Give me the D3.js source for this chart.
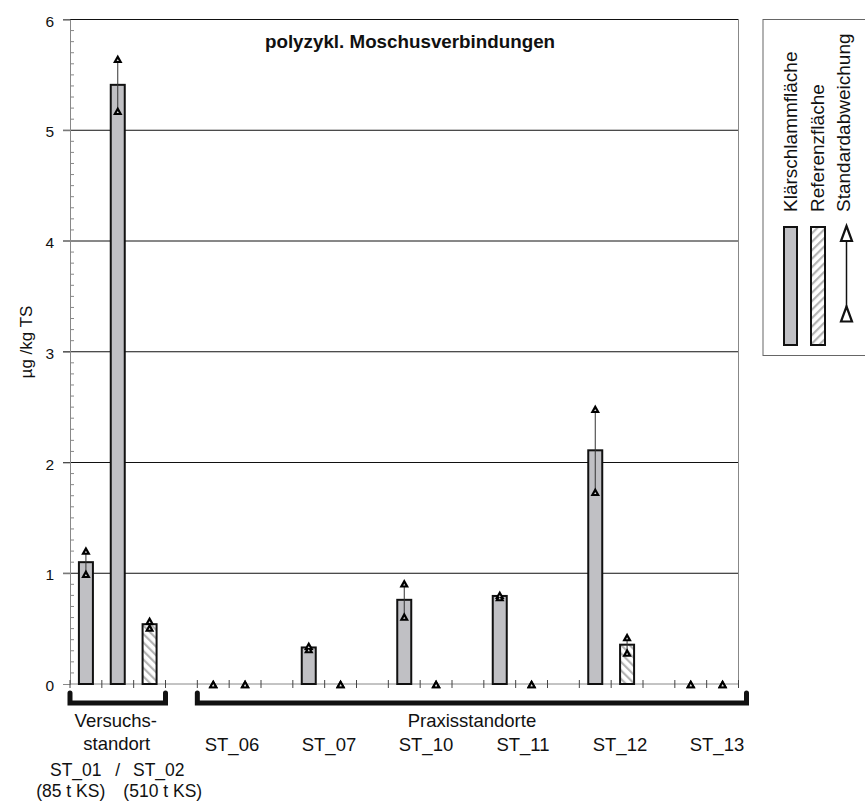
<!DOCTYPE html>
<html>
<head>
<meta charset="utf-8">
<script src="https://d3js.org/d3.v7.min.js"></script>
<style>
    body { margin: 0; background: #fff; }
    svg { display: block; font-family: "Liberation Sans", Arial, sans-serif; }
</style>
</head>
<body>
<svg id="chart" width="865" height="803"></svg>
<script>
// one entry per slot on the x axis: 3 for the Versuchsstandort, then gap / KS / Ref for every Praxisstandort
var slotKind = ["KS", "KS", "Ref", null, "KS", "Ref", null, "KS", "Ref", null, "KS", "Ref", null, "KS", "Ref", null, "KS", "Ref", null, "KS", "Ref"]
var slotValue = [1.10, 5.41, 0.54, null, 0, 0, null, 0.33, 0, null, 0.76, 0, null, 0.795, 0, null, 2.11, 0.355, null, 0, 0]
var slotSd = [0.105, 0.235, 0.03, null, 0, 0, null, 0.015, 0, null, 0.15, 0, null, 0.01, 0, null, 0.375, 0.07, null, 0, 0]

var siteLabels = ["ST_06", "ST_07", "ST_10", "ST_11", "ST_12", "ST_13"]
var yTicks = [0, 1, 2, 3, 4, 5, 6]
var legendLabels = ["Klärschlammfläche", "Referenzfläche", "Standardabweichung"]
var chartTitle = "polyzykl. Moschusverbindungen"
var yTitle = "µg /kg TS"

var ksFill = "#c0c0c4"

var svg = d3.select("svg#chart")

var x = d3.scaleBand().domain(d3.range(slotKind.length)).range([70, 738.5]).padding(0)
var y = d3.scaleLinear().domain([0, 6]).range([684, 19.5])
var barW = 14

// hatch patterns
var defs = svg.append("defs")
function addHatch(id, angle) {
    var p = defs.append("pattern")
        .attr("id", id)
        .attr("patternUnits", "userSpaceOnUse")
        .attr("width", 6).attr("height", 6)
        .attr("patternTransform", "rotate(" + angle + ")")
    p.append("rect").attr("width", 6).attr("height", 6).attr("fill", "#fff")
    p.append("rect").attr("width", 2.2).attr("height", 6).attr("fill", "#b4b4b4")
}
addHatch("hatch", -45)
addHatch("hatchLegend", 45)

function tri(cx, cy, w, h) {
    return "M" + cx + "," + (cy - h / 2) + "L" + (cx + w / 2) + "," + (cy + h / 2) + "L" + (cx - w / 2) + "," + (cy + h / 2) + "Z"
}

// gridlines
svg.append("g").selectAll("line").data(yTicks.filter(d => d > 0)).enter().append("line")
    .attr("x1", 63).attr("x2", x.range()[1])
    .attr("y1", d => y(d)).attr("y2", d => y(d))
    .attr("stroke", "#111").attr("stroke-width", 1)

// right border of plot area
svg.append("line")
    .attr("x1", x.range()[1]).attr("x2", x.range()[1])
    .attr("y1", y(6)).attr("y2", y(0))
    .attr("stroke", "#888")

// y axis
var yAxis = svg.append("g").attr("transform", "translate(70,0)")
    .call(d3.axisLeft(y).tickValues(yTicks).tickSize(7).tickPadding(9).tickFormat(d3.format("d")))
yAxis.select(".domain").attr("stroke", "#888")
yAxis.selectAll(".tick line").attr("stroke", "#888")
yAxis.selectAll("text").attr("font-size", "15.5px").attr("font-family", "Liberation Sans, Arial").attr("fill", "#111").attr("dy", "0.42em")

// minor ticks
svg.append("g").selectAll("line").data(d3.range(1, 60).filter(d => d % 10 != 0)).enter().append("line")
    .attr("x1", 70).attr("x2", 74)
    .attr("y1", d => y(d / 10)).attr("y2", d => y(d / 10))
    .attr("stroke", "#888")

// x axis line + ticks on slot boundaries
svg.append("line")
    .attr("x1", x.range()[0]).attr("x2", x.range()[1])
    .attr("y1", y(0)).attr("y2", y(0))
    .attr("stroke", "#888")
svg.append("g").selectAll("line").data(d3.range(slotKind.length + 1)).enter().append("line")
    .attr("x1", d => x.range()[0] + d * x.step()).attr("x2", d => x.range()[0] + d * x.step())
    .attr("y1", y(0) - 4).attr("y2", y(0) + 4)
    .attr("stroke", "#444")

// bars
var slots = slotKind.map((k, i) => ({i: i, kind: k, value: slotValue[i], sd: slotSd[i]}))
    .filter(d => d.kind != null)

svg.append("g").selectAll("rect").data(slots.filter(d => d.value > 0)).enter().append("rect")
    .attr("x", d => x(d.i) + (x.bandwidth() - barW) / 2)
    .attr("y", d => y(d.value))
    .attr("width", barW)
    .attr("height", d => y(0) - y(d.value))
    .attr("fill", d => d.kind == "KS" ? ksFill : "url(#hatch)")
    .attr("stroke", "#111").attr("stroke-width", 2)

// error bars
var err = svg.append("g")
err.selectAll("line").data(slots.filter(d => d.sd > 0)).enter().append("line")
    .attr("x1", d => x(d.i) + x.bandwidth() / 2).attr("x2", d => x(d.i) + x.bandwidth() / 2)
    .attr("y1", d => y(d.value - d.sd)).attr("y2", d => y(d.value + d.sd))
    .attr("stroke", "#333").attr("stroke-width", 1)

var ends = []
slots.forEach(d => {
    ends.push({i: d.i, v: d.value + d.sd})
    ends.push({i: d.i, v: Math.max(0, d.value - d.sd)})
})
// markers are black triangles with a tiny light centre
err.selectAll("path.m").data(ends).enter().append("path")
    .attr("class", "m")
    .attr("d", d => tri(x(d.i) + x.bandwidth() / 2, y(d.v), 9.5, 8.5))
    .attr("fill", "#000")
err.selectAll("path.c").data(ends).enter().append("path")
    .attr("class", "c")
    .attr("d", d => tri(x(d.i) + x.bandwidth() / 2, y(d.v) + 1.2, 2.2, 2))
    .attr("fill", "#ddd")

// title
svg.append("text").attr("x", 410).attr("y", 48)
    .attr("text-anchor", "middle").attr("font-size", "18.8px").attr("font-weight", "bold").attr("fill", "#111")
    .text(chartTitle)

// y axis title
svg.append("text").attr("transform", "translate(32,342) rotate(-90)")
    .attr("text-anchor", "middle").attr("font-size", "17px").attr("fill", "#111")
    .text(yTitle)

// group brackets
var brackets = [
    {x0: x(0), x1: x(3)},
    {x0: x(4), x1: x.range()[1] + 8}
]
svg.append("g").selectAll("path").data(brackets).enter().append("path")
    .attr("d", d => "M" + d.x0 + ",693L" + d.x0 + ",703L" + d.x1 + ",703L" + d.x1 + ",693")
    .attr("fill", "none").attr("stroke", "#111").attr("stroke-width", 5)
    .attr("stroke-linecap", "round").attr("stroke-linejoin", "miter")

var lab = svg.append("g").attr("font-size", "18.5px").attr("fill", "#111").attr("text-anchor", "middle")
var vMid = (brackets[0].x0 + brackets[0].x1) / 2
lab.append("text").attr("x", vMid - 2).attr("y", 727).text("Versuchs-")
lab.append("text").attr("x", vMid - 1).attr("y", 750).text("standort")
var sub = lab.append("g").attr("font-size", "17.5px")
sub.append("text").attr("x", vMid - 42).attr("y", 776).text("ST_01")
sub.append("text").attr("x", vMid).attr("y", 776).text("/")
sub.append("text").attr("x", vMid + 41).attr("y", 776).text("ST_02")
sub.append("text").attr("x", vMid - 47).attr("y", 797).text("(85 t KS)")
sub.append("text").attr("x", vMid + 45).attr("y", 797).text("(510 t KS)")

lab.append("text").attr("x", (brackets[1].x0 + brackets[1].x1) / 2).attr("y", 727).text("Praxisstandorte")
var siteX = d3.scalePoint().domain(siteLabels).range([232, 717])
lab.selectAll(".site").data(siteLabels).enter().append("text")
    .attr("class", "site")
    .attr("x", d => siteX(d)).attr("y", 751)
    .text(d => d)

// legend
var leg = svg.append("g")
leg.append("rect").attr("x", 763).attr("y", 19.5).attr("width", 110).attr("height", 336)
    .attr("fill", "none").attr("stroke", "#666")
leg.append("rect").attr("x", 784).attr("y", 227).attr("width", 13).attr("height", 118)
    .attr("fill", ksFill).attr("stroke", "#111").attr("stroke-width", 2)
leg.append("rect").attr("x", 811).attr("y", 227).attr("width", 14).attr("height", 118)
    .attr("fill", "url(#hatchLegend)").attr("stroke", "#111").attr("stroke-width", 2)
leg.append("line").attr("x1", 846.5).attr("x2", 846.5).attr("y1", 234).attr("y2", 314)
    .attr("stroke", "#111").attr("stroke-width", 1.5)
leg.append("path").attr("d", tri(846.5, 233.5, 11, 15)).attr("fill", "#fff").attr("stroke", "#111").attr("stroke-width", 2.2)
leg.append("path").attr("d", tri(846.5, 314, 11, 15)).attr("fill", "#fff").attr("stroke", "#111").attr("stroke-width", 2.2)

var legX = [797, 824, 850]
leg.selectAll(".lt").data(legendLabels).enter().append("text")
    .attr("class", "lt")
    .attr("transform", (d, i) => "translate(" + legX[i] + ",212) rotate(-90)")
    .attr("font-size", "19px").attr("fill", "#111")
    .text(d => d)
</script>
</body>
</html>
